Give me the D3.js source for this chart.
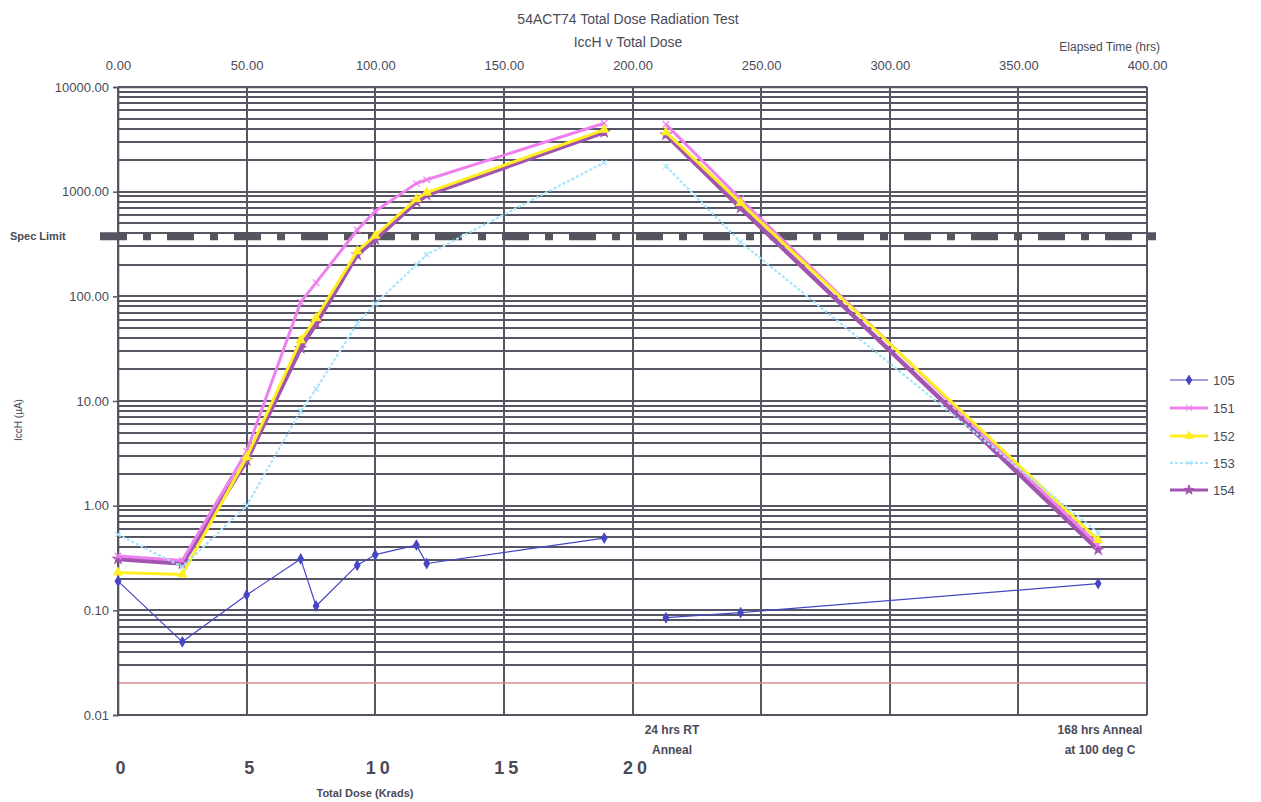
<!DOCTYPE html>
<meta charset="utf-8">
<head>
<style>
  body { margin: 0; background: #fff; }
  svg { font-family: "Liberation Sans", Arial, sans-serif; }
  .lbl { fill: #4a4a58; }
  .grid line { stroke: #555563; stroke-width: 1.6; shape-rendering: crispEdges; }
</style>
</head>
<body>
<div id="chart"></div>
<script src="https://d3js.org/d3.v7.min.js"></script>
<script>

// elapsed time (hrs) of each reading
var hoursRise = [0, 25, 50, 71, 77, 93, 100, 116, 120, 189];
var hoursAnneal = [213, 242, 381];

// IccH (uA) per part
var s105Rise = [0.19, 0.05, 0.14, 0.31, 0.11, 0.27, 0.34, 0.42, 0.28, 0.49];
var s105Anneal = [0.085, 0.095, 0.18];
var s151Rise = [0.33, 0.30, 3.3, 88, 135, 430, 650, 1200, 1300, 4500];
var s151Anneal = [4400, 850, 0.42];
var s152Rise = [0.23, 0.22, 2.9, 38, 62, 270, 380, 850, 980, 3900];
var s152Anneal = [3700, 780, 0.47];
var s153Rise = [0.53, 0.26, 1.0, 8, 13, 55, 85, 200, 250, 1900];
var s153Anneal = [1750, 330, 0.55];
var s154Rise = [0.31, 0.28, 2.7, 32, 55, 250, 350, 800, 930, 3700];
var s154Anneal = [3500, 700, 0.38];

var seriesNames = ["105", "151", "152", "153", "154"];
var specLimit = 375;
var lowLimit = 0.02;

var timeTicks = [0, 50, 100, 150, 200, 250, 300, 350, 400];
var doseTicks = [0, 5, 10, 15, 20];
var yTicks = [0.01, 0.1, 1, 10, 100, 1000, 10000];

var W = 1261, H = 802;
var pl = 118, pr = 1147, pt = 87, pb = 715;

var svg = d3.select("#chart").append("svg")
  .attr("width", W).attr("height", H);

var x = d3.scaleLinear().domain([0, 400]).range([pl, pr]);
var xDose = d3.scaleLinear().domain([0, 20]).range([pl, x(200)]);
var y = d3.scaleLog().domain([0.01, 10000]).range([pb, pt]);
var fmt = d3.format(".2f");

// horizontal grid, every 1..9 of each decade
var minor = [];
yTicks.slice(0, -1).forEach(function(d){
  for (var k = 1; k < 10; k++) minor.push(d * k);
});
minor.push(10000);
minor = minor.filter(function(d){ return Math.abs(d - lowLimit) > 1e-9; });

var grid = svg.append("g").attr("class", "grid");
grid.selectAll(".h").data(minor).enter().append("line")
  .attr("x1", pl).attr("x2", pr)
  .attr("y1", function(d){ return Math.round(y(d)); })
  .attr("y2", function(d){ return Math.round(y(d)); });
grid.selectAll(".v").data(timeTicks).enter().append("line")
  .attr("x1", function(d){ return Math.round(x(d)); })
  .attr("x2", function(d){ return Math.round(x(d)); })
  .attr("y1", pt).attr("y2", pb);

// faint lower limit line
svg.append("line")
  .attr("x1", pl).attr("x2", pr)
  .attr("y1", Math.round(y(lowLimit))).attr("y2", Math.round(y(lowLimit)))
  .attr("stroke", "#dc8a8e").attr("stroke-width", 1.4);

// spec limit
svg.append("line")
  .attr("x1", 100).attr("x2", 1156)
  .attr("y1", y(specLimit)).attr("y2", y(specLimit))
  .attr("stroke", "#55555f").attr("stroke-width", 8)
  .attr("stroke-dasharray", "27,16,8,16");
svg.append("text").attr("class", "lbl")
  .attr("x", 10).attr("y", y(specLimit)).attr("dy", "0.35em")
  .style("font-size", "11px").style("font-weight", "bold")
  .text("Spec Limit");

// left axis
var yAxis = svg.append("g")
  .attr("transform", "translate(" + pl + ",0)")
  .call(d3.axisLeft(y).tickValues(yTicks).tickFormat(fmt).tickSize(5));
yAxis.select(".domain").attr("stroke", "#555563").attr("stroke-width", 1.6);
yAxis.selectAll(".tick line").attr("stroke", "#555563").attr("stroke-width", 1.5);
yAxis.selectAll("text").attr("class", "lbl").attr("fill", null)
  .style("font-size", "13px").attr("x", -9);

// top axis (elapsed time)
var topAxis = svg.append("g")
  .attr("transform", "translate(0," + pt + ")")
  .call(d3.axisTop(x).tickValues(timeTicks).tickFormat(fmt).tickSize(0));
topAxis.select(".domain").attr("stroke", "#555563").attr("stroke-width", 1.6);
topAxis.selectAll("text").attr("class", "lbl").attr("fill", null)
  .style("font-size", "13px").attr("y", -17);

// bottom axis (total dose)
var botAxis = svg.append("g")
  .attr("transform", "translate(4," + pb + ")")
  .call(d3.axisBottom(xDose).tickValues(doseTicks).tickSize(0));
botAxis.select(".domain").remove();
svg.append("line").attr("x1", pl).attr("x2", pr)
  .attr("y1", pb).attr("y2", pb)
  .attr("stroke", "#555563").attr("stroke-width", 1.6);
botAxis.selectAll("text").attr("class", "lbl").attr("fill", null)
  .style("font-size", "18px").style("font-weight", "bold")
  .style("letter-spacing", "4px").attr("y", 46);

svg.append("line").attr("x1", pr).attr("x2", pr)
  .attr("y1", pt).attr("y2", pb)
  .attr("stroke", "#555563").attr("stroke-width", 1.6);

// titles
var t = svg.append("g").attr("class", "lbl").attr("text-anchor", "middle");
t.append("text").attr("x", 628).attr("y", 24).style("font-size", "14px")
  .text("54ACT74 Total Dose Radiation Test");
t.append("text").attr("x", 628).attr("y", 47).style("font-size", "14px")
  .text("IccH v Total Dose");
t.append("text").attr("x", 365).attr("y", 797).style("font-size", "11px")
  .style("font-weight", "bold").text("Total Dose (Krads)");
t.append("text").attr("x", 672).attr("y", 734).style("font-size", "12px")
  .style("font-weight", "bold").text("24 hrs RT");
t.append("text").attr("x", 672).attr("y", 754).style("font-size", "12px")
  .style("font-weight", "bold").text("Anneal");
t.append("text").attr("x", 1100).attr("y", 734).style("font-size", "12px")
  .style("font-weight", "bold").text("168 hrs Anneal");
t.append("text").attr("x", 1100).attr("y", 754).style("font-size", "12px")
  .style("font-weight", "bold").text("at 100 deg C");
t.append("text").attr("x", 1160).attr("y", 51).attr("text-anchor", "end")
  .style("font-size", "12px").text("Elapsed Time (hrs)");
t.append("text").attr("transform", "translate(22,420) rotate(-90)")
  .style("font-size", "10px").text("IccH (\u00b5A)");

// series
var crossSym = d3.symbolTimes || d3.symbolCross;
var styles = {
  "105": {rise: s105Rise, anneal: s105Anneal, color: "#4646c4", width: 1.2, sym: d3.symbolDiamond, size: 26, dash: null},
  "154": {rise: s154Rise, anneal: s154Anneal, color: "#a255b0", width: 4.5, sym: d3.symbolStar, size: 30, dash: null},
  "151": {rise: s151Rise, anneal: s151Anneal, color: "#ee80ee", width: 3, sym: crossSym, size: 30, dash: null},
  "152": {rise: s152Rise, anneal: s152Anneal, color: "#ffee22", width: 3, sym: d3.symbolTriangle, size: 30, dash: null},
  "153": {rise: s153Rise, anneal: s153Anneal, color: "#a6e4fb", width: 2.2, sym: crossSym, size: 20, dash: "3,2"}
};
var drawOrder = ["105", "154", "151", "152", "153"];

var line = d3.line()
  .x(function(d){ return x(d[0]); })
  .y(function(d){ return y(d[1]); });

drawOrder.forEach(function(name){
  var s = styles[name];
  var segs = [
    hoursRise.map(function(h, i){ return [h, s.rise[i]]; }),
    hoursAnneal.map(function(h, i){ return [h, s.anneal[i]]; })
  ];
  var g = svg.append("g");
  segs.forEach(function(seg){
    g.append("path").datum(seg)
      .attr("d", line)
      .attr("fill", "none")
      .attr("stroke", s.color)
      .attr("stroke-width", s.width)
      .attr("stroke-linejoin", "round")
      .attr("stroke-dasharray", s.dash);
    g.selectAll(null).data(seg).enter().append("path")
      .attr("transform", function(d){ return "translate(" + x(d[0]) + "," + y(d[1]) + ")"; })
      .attr("d", d3.symbol().type(s.sym).size(s.size))
      .attr("fill", s.color).attr("stroke", s.color).attr("stroke-width", 1.2);
  });
});

// legend
var legY = [380, 408, 436, 463, 490];
var leg = svg.append("g");
seriesNames.forEach(function(name, i){
  var s = styles[name];
  leg.append("line").attr("x1", 1170).attr("x2", 1208)
    .attr("y1", legY[i]).attr("y2", legY[i])
    .attr("stroke", s.color).attr("stroke-width", Math.min(s.width, 3))
    .attr("stroke-dasharray", s.dash);
  leg.append("path")
    .attr("transform", "translate(1189," + legY[i] + ")")
    .attr("d", d3.symbol().type(s.sym).size(s.size))
    .attr("fill", s.color).attr("stroke", s.color);
  leg.append("text").attr("class", "lbl")
    .attr("x", 1213).attr("y", legY[i]).attr("dy", "0.35em")
    .style("font-size", "13px").text(name);
});

</script>
</body>
</html>
